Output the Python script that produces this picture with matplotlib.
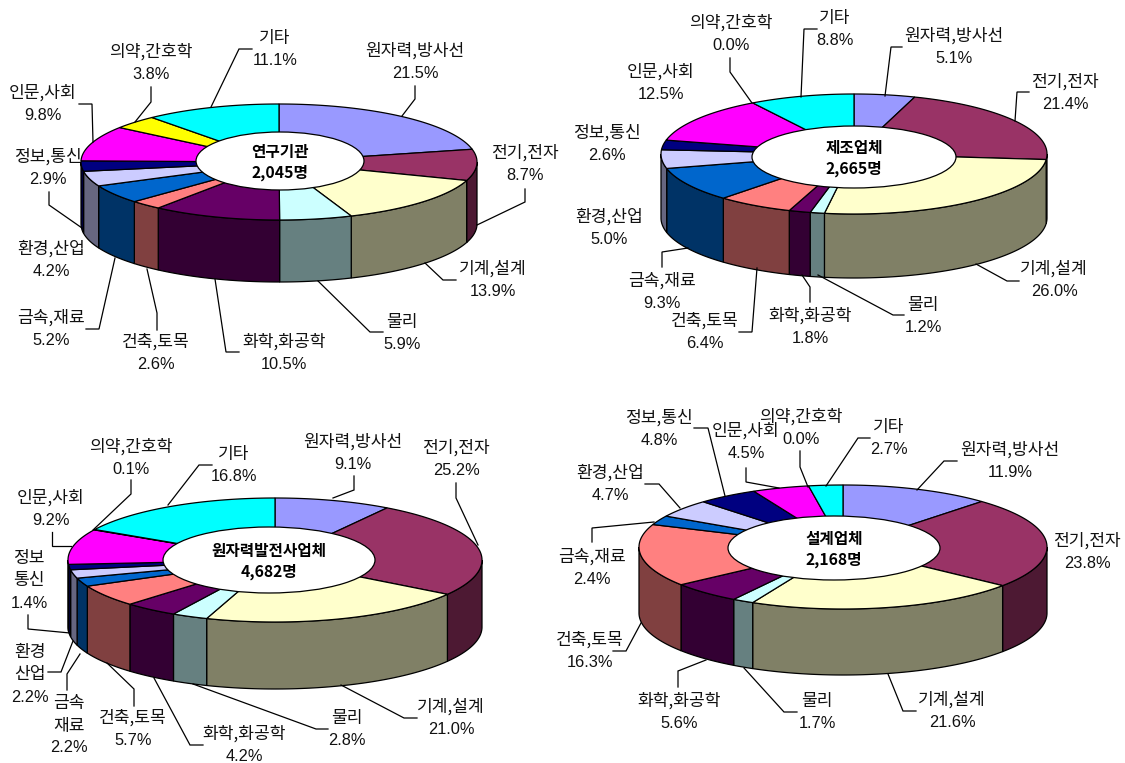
import matplotlib
matplotlib.use('Agg')
import matplotlib.pyplot as plt
from matplotlib.patches import Polygon, Ellipse
import numpy as np

LABEL_FONT = ['Noto Sans CJK KR']
PERCENT_FONT = ['Liberation Sans']
TITLE_FONT = ['Noto Sans CJK KR']

fields = ['원자력,방사선', '전기,전자', '기계,설계', '물리', '화학,화공학', '건축,토목',
          '금속,재료', '환경,산업', '정보,통신', '인문,사회', '의약,간호학', '기타']

research_values = [21.5, 8.7, 13.9, 5.9, 10.5, 2.6, 5.2, 4.2, 2.9, 9.8, 3.8, 11.1]
maker_values = [5.1, 21.4, 26.0, 1.2, 1.8, 6.4, 9.3, 5.0, 2.6, 12.5, 0.0, 8.8]
power_values = [9.1, 25.2, 21.0, 2.8, 4.2, 5.7, 2.2, 2.2, 1.4, 9.2, 0.1, 16.8]
design_values = [11.9, 23.8, 21.6, 1.7, 5.6, 16.3, 2.4, 4.7, 4.8, 4.5, 0.0, 2.7]

top_colors = ['#9999FF', '#993366', '#FFFFCC', '#CCFFFF', '#660066', '#FF8080',
              '#0066CC', '#CCCCFF', '#000080', '#FF00FF', '#FFFF00', '#00FFFF']
side_colors = ['#4D4D80', '#4D1933', '#808066', '#668080', '#330033', '#804040',
               '#003366', '#666680', '#000040', '#800080', '#808000', '#008080']

# narrow labels in the power plant chart wrap onto an extra line
power_names = list(fields)
power_names[6] = '금속\n재료'
power_names[7] = '환경\n산업'
power_names[8] = '정보\n통신'

# pixel layout of each pie: centre, radii, wall height, hole centre and radii
research_geo = (279, 162, 198, 58, 62, 280, 161, 84, 29)
maker_geo = (854, 154, 193, 60, 64, 854, 157, 102, 31)
power_geo = (275, 560, 207, 62, 67, 269, 560, 106, 33)
design_geo = (843, 547, 204, 62, 66, 834, 548, 106, 32)

# label anchor: x centre and y of the first line
research_pos = [(415, 51), (525, 153), (493, 269), (402, 322), (284, 342), (156, 342),
                (51, 318), (51, 249), (48, 157), (43, 93), (151, 52), (275, 38)]
maker_pos = [(954, 36), (1065, 82), (1054, 269), (923, 305), (810, 316), (705, 321),
             (662, 281), (609, 217), (607, 133), (661, 72), (731, 23), (835, 18)]
power_pos = [(353, 442), (456, 448), (451, 707), (347, 718), (244, 734), (133, 718),
             (69, 703), (30, 652), (29, 558), (51, 498), (131, 447), (234, 454)]
design_pos = [(1010, 450), (1087, 541), (952, 700), (817, 701), (679, 701), (590, 640),
              (592, 557), (610, 473), (659, 418), (746, 431), (801, 417), (889, 427)]

research_leaders = [
    [(415, 86), (415, 99), (402, 116)], [(525, 189), (525, 202), (477, 225)],
    [(456, 280), (443, 280), (425, 263)], [(383, 332), (370, 332), (318, 281)],
    [(239, 352), (226, 352), (215, 279)], [(157, 330), (157, 313), (147, 269)],
    [(86, 329), (99, 329), (115, 258)], [(49, 192), (49, 205), (82, 228)],
    [(79, 104), (92, 104), (93, 142)], [(151, 87), (151, 102), (135, 122)],
    [(252, 49), (239, 49), (211, 107)],
]
maker_leaders = [
    [(902, 47), (891, 47), (885, 96)], [(1029, 92), (1017, 92), (1015, 121)],
    [(1019, 281), (1007, 281), (976, 264)], [(904, 315), (893, 315), (818, 275)],
    [(810, 302), (810, 287), (802, 275)], [(739, 332), (752, 332), (757, 268)],
    [(662, 267), (662, 252), (688, 248)], [(730, 58), (730, 72), (752, 103)],
    [(817, 29), (804, 29), (801, 97)],
]
power_leaders = [
    [(354, 476), (354, 490), (333, 498)], [(456, 483), (456, 498), (478, 545)],
    [(417, 718), (404, 718), (341, 685)], [(328, 729), (316, 729), (193, 684)],
    [(203, 745), (190, 745), (154, 678)], [(134, 706), (134, 689), (107, 663)],
    [(67, 690), (67, 674), (80, 654)], [(48, 672), (61, 672), (73, 641)],
    [(28, 615), (28, 629), (70, 633)], [(52, 532), (52, 546), (71, 546)],
    [(131, 480), (131, 494), (93, 530)], [(212, 465), (199, 465), (168, 505)],
]
design_leaders = [
    [(957, 461), (944, 461), (917, 490)], [(916, 711), (903, 711), (888, 674)],
    [(797, 712), (784, 712), (744, 668)], [(678, 687), (678, 671), (706, 660)],
    [(613, 651), (626, 651), (641, 623)], [(592, 542), (592, 528), (654, 522)],
    [(645, 484), (659, 484), (680, 508)], [(694, 428), (708, 428), (725, 496)],
    [(746, 468), (746, 482), (779, 488)], [(800, 451), (800, 467), (808, 487)],
    [(870, 438), (858, 438), (826, 486)],
]


def arc(cx, cy, rx, ry, t0, t1):
    # angles run clockwise from twelve o'clock
    t = np.linspace(t0, t1, max(int(abs(t1 - t0) * 60), 2))
    return np.column_stack([cx + rx * np.sin(t), cy - ry * np.cos(t)])


def draw_pie(ax, values, geo, title, total):
    cx, cy, rx, ry, depth, hx, hy, hrx, hry = geo
    edges = np.concatenate([[0], np.cumsum(values)]) / sum(values) * 2 * np.pi

    # walls only show on the front half of the rim
    for i in range(len(values)):
        t0 = max(edges[i], np.pi / 2)
        t1 = min(edges[i + 1], 3 * np.pi / 2)
        if t1 <= t0:
            continue
        rim = arc(cx, cy, rx, ry, t0, t1)
        wall = np.vstack([rim, (rim + [0, depth])[::-1]])
        ax.add_patch(Polygon(wall, closed=True, fc=side_colors[i], ec='black', lw=0.9))

    # wedges meet at the pie centre, the hole is laid over them
    for i in range(len(values)):
        if values[i] == 0:
            continue
        outer = arc(cx, cy, rx, ry, edges[i], edges[i + 1])
        ax.add_patch(Polygon(np.vstack([[(cx, cy)], outer]), closed=True,
                             fc=top_colors[i], ec='black', lw=0.9))

    ax.add_patch(Ellipse((hx, hy), 2 * hrx, 2 * hry, fc='white', ec='black', lw=0.9))
    ax.text(hx, hy - 9, title, ha='center', va='center', fontsize=11.3,
            fontweight='bold', family=TITLE_FONT, color='black')
    ax.text(hx, hy + 12, total, ha='center', va='center', fontsize=11.3,
            fontweight='bold', family=TITLE_FONT, color='black')


def draw_labels(ax, names, values, positions, leaders):
    for name, value, (x, y) in zip(names, values, positions):
        lines = name.split('\n')
        for j, line in enumerate(lines):
            ax.text(x, y + j * 22.5, line, ha='center', va='center', fontsize=12.3,
                    family=LABEL_FONT, color='#111111')
        ax.text(x, y + len(lines) * 22.5, '%.1f%%' % value, ha='center', va='center',
                fontsize=11.8, family=PERCENT_FONT, color='#111111')
    for pts in leaders:
        xs, ys = zip(*pts)
        ax.plot(xs, ys, color='black', lw=0.9, solid_joinstyle='miter')


fig = plt.figure(figsize=(11.25, 7.63), dpi=100)
ax = fig.add_axes([0, 0, 1, 1])
ax.set_xlim(0, 1125)
ax.set_ylim(763, 0)
ax.axis('off')

draw_pie(ax, research_values, research_geo, '연구기관', '2,045명')
draw_labels(ax, fields, research_values, research_pos, research_leaders)

draw_pie(ax, maker_values, maker_geo, '제조업체', '2,665명')
draw_labels(ax, fields, maker_values, maker_pos, maker_leaders)

draw_pie(ax, power_values, power_geo, '원자력발전사업체', '4,682명')
draw_labels(ax, power_names, power_values, power_pos, power_leaders)

draw_pie(ax, design_values, design_geo, '설계업체', '2,168명')
draw_labels(ax, fields, design_values, design_pos, design_leaders)

fig.savefig('out.png', dpi=100, facecolor='white')
plt.close(fig)
